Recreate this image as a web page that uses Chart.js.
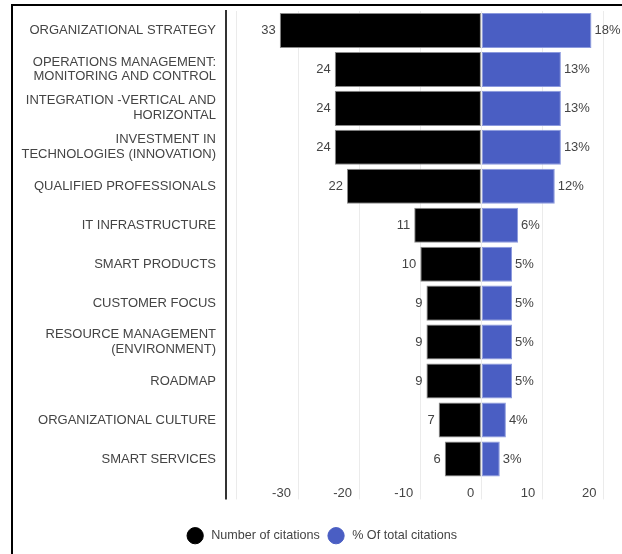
<!DOCTYPE html>
<html>
<head>
<meta charset="utf-8">
<script src="https://cdn.jsdelivr.net/npm/chart.js@4"></script>
<style>
	body { margin: 0; background: #fff; overflow: hidden; }
	#frame { position: absolute; left: 11px; top: 4px; width: 700px; height: 700px; border: 2px solid #000; pointer-events: none; }
	canvas { position: absolute; left: 0; top: 0; }
</style>
</head>
<body>
<canvas id="chart" width="622" height="554"></canvas>
<div id="frame"></div>
<script>
const CATEGORIES = [
	'ORGANIZATIONAL STRATEGY',
	['OPERATIONS MANAGEMENT:', 'MONITORING AND CONTROL'],
	['INTEGRATION -VERTICAL AND', 'HORIZONTAL'],
	['INVESTMENT IN', 'TECHNOLOGIES (INNOVATION)'],
	'QUALIFIED PROFESSIONALS',
	'IT INFRASTRUCTURE',
	'SMART PRODUCTS',
	'CUSTOMER FOCUS',
	['RESOURCE MANAGEMENT', '(ENVIRONMENT)'],
	'ROADMAP',
	'ORGANIZATIONAL CULTURE',
	'SMART SERVICES'
]
const CITATIONS = [33, 24, 24, 24, 22, 11, 10, 9, 9, 9, 7, 6]
const PERCENT = [18, 13, 13, 13, 12, 6, 5, 5, 5, 5, 4, 3]
const X_TICKS = [-30, -20, -10, 0, 10, 20]

const TEXT = '#444'
const FONT = 'Arial, "Liberation Sans", sans-serif'

// Value labels at the ends of the bars
const barLabels = {
	id: 'barLabels',
	afterDatasetsDraw(chart) {
		const ctx = chart.ctx
		ctx.save()
		ctx.font = '13px ' + FONT
		ctx.fillStyle = TEXT
		ctx.textBaseline = 'middle'
		chart.getDatasetMeta(0).data.forEach(function(bar, i) {
			ctx.textAlign = 'right'
			ctx.fillText(String(CITATIONS[i]), bar.x - 4, bar.y)
		})
		chart.getDatasetMeta(1).data.forEach(function(bar, i) {
			ctx.textAlign = 'left'
			ctx.fillText(PERCENT[i] + '%', bar.x + 3, bar.y)
		})
		ctx.restore()
	}
}

// Dark vertical axis line, running down through the tick area
const axisLine = {
	id: 'axisLine',
	afterDraw(chart) {
		const area = chart.chartArea
		const ctx = chart.ctx
		ctx.save()
		ctx.strokeStyle = '#333'
		ctx.lineWidth = 2
		ctx.beginPath()
		ctx.moveTo(area.left, area.top - 1)
		ctx.lineTo(area.left, area.bottom + 21)
		ctx.stroke()
		ctx.restore()
	}
}

new Chart(document.getElementById('chart'), {
	type: 'bar',
	data: {
		labels: CATEGORIES,
		datasets: [
			{
				label: 'Number of citations',
				data: CITATIONS.map(v => -v),
				backgroundColor: '#000',
				borderColor: '#8a8a8a',
				borderWidth: 1,
				borderSkipped: false
			},
			{
				label: '% Of total citations',
				data: PERCENT,
				backgroundColor: '#4a5ec3',
				borderColor: '#8c9ade',
				borderWidth: 1,
				borderSkipped: false
			}
		]
	},
	options: {
		indexAxis: 'y',
		responsive: false,
		animation: false,
		layout: { padding: { left: 0, right: -24, top: 11, bottom: 2 } },
		scales: {
			x: {
				stacked: true,
				min: -41.8,
				max: 23,
				border: { display: false },
				grid: { color: '#ebebeb', tickLength: 21, tickColor: '#ebebeb' },
				ticks: {
					stepSize: 10,
					includeBounds: false,
					align: 'end',
					padding: -14,
					color: TEXT,
					font: { family: FONT, size: 13 },
					callback: v => X_TICKS.includes(v) ? v + '  ' : ''
				},
				afterFit(scale) { scale.height = 41 }
			},
			y: {
				stacked: true,
				border: { display: false },
				grid: { display: false, drawTicks: false },
				ticks: {
					padding: 10,
					color: TEXT,
					font: { family: FONT, size: 13, lineHeight: 1.15 }
				},
				afterFit(scale) {
					scale.width = 226
					scale.paddingTop = 0
					scale.paddingBottom = 0
				}
			}
		},
		datasets: { bar: { categoryPercentage: 1, barPercentage: 0.9 } },
		plugins: {
			tooltip: { enabled: false },
			legend: {
				position: 'bottom',
				labels: {
					usePointStyle: true,
					pointStyle: 'circle',
					boxHeight: 11.5,
					color: TEXT,
					padding: 10,
					font: { family: FONT, size: 12.6 },
					generateLabels(chart) {
						return Chart.defaults.plugins.legend.labels.generateLabels(chart).map(function(item) {
							item.text = ' ' + item.text
							item.strokeStyle = item.fillStyle
							return item
						})
					}
				}
			}
		}
	},
	plugins: [barLabels, axisLine]
})
</script>
</body>
</html>
